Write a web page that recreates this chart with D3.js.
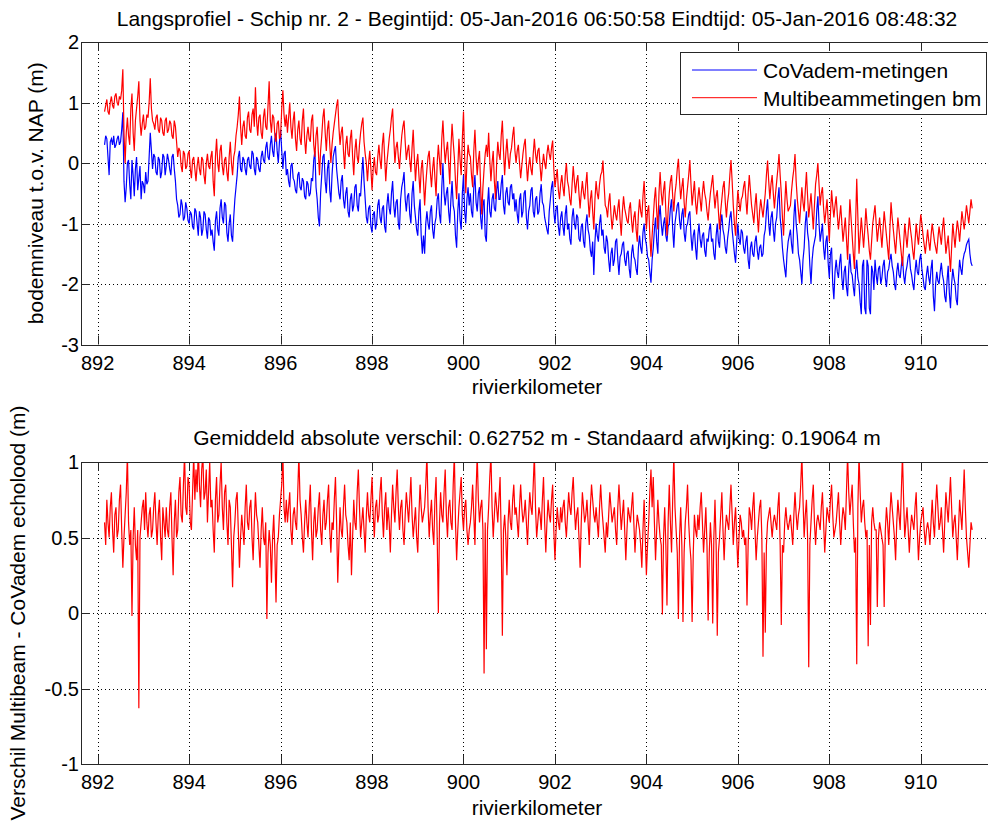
<!DOCTYPE html>
<html><head><meta charset="utf-8">
<script src="https://cdn.jsdelivr.net/npm/d3@7"></script>
<style>
body{margin:0;background:#fff}
svg{display:block}
text{font-family:"Liberation Sans",Arial,Helvetica,sans-serif;fill:#000}
</style>
</head><body>
<svg id="c" width="988" height="826"></svg>
<script>
// ---------------- DATA ----------------
// main sample positions (river km)
const rivierkm = [
892.15,892.20,892.25,892.30,892.35,892.40,892.45,892.50,892.55,892.60,892.65,892.70,892.75,892.80,892.85,892.90,892.95,893.00,893.05,893.10,
893.15,893.20,893.25,893.30,893.35,893.40,893.45,893.50,893.55,893.60,893.65,893.70,893.75,893.80,893.85,893.90,893.95,894.00,894.05,894.10,
894.15,894.20,894.25,894.30,894.35,894.40,894.45,894.50,894.55,894.60,894.65,894.70,894.75,894.80,894.85,894.90,894.95,895.00,895.05,895.10,
895.15,895.20,895.25,895.30,895.35,895.40,895.45,895.50,895.55,895.60,895.65,895.70,895.75,895.80,895.85,895.90,895.95,896.00,896.05,896.10,
896.15,896.20,896.25,896.30,896.35,896.40,896.45,896.50,896.55,896.60,896.65,896.70,896.75,896.80,896.85,896.90,896.95,897.00,897.05,897.10,
897.15,897.20,897.25,897.30,897.35,897.40,897.45,897.50,897.55,897.60,897.65,897.70,897.75,897.80,897.85,897.90,897.95,898.00,898.05,898.10,
898.15,898.20,898.25,898.30,898.35,898.40,898.45,898.50,898.55,898.60,898.65,898.70,898.75,898.80,898.85,898.90,898.95,899.00,899.05,899.10,
899.15,899.20,899.25,899.30,899.35,899.40,899.45,899.50,899.55,899.60,899.65,899.70,899.75,899.80,899.85,899.90,899.95,900.00,900.05,900.10,
900.15,900.20,900.25,900.30,900.35,900.40,900.45,900.50,900.55,900.60,900.65,900.70,900.75,900.80,900.85,900.90,900.95,901.00,901.05,901.10,
901.15,901.20,901.25,901.30,901.35,901.40,901.45,901.50,901.55,901.60,901.65,901.70,901.75,901.80,901.85,901.90,901.95,902.00,902.05,902.10,
902.15,902.20,902.25,902.30,902.35,902.40,902.45,902.50,902.55,902.60,902.65,902.70,902.75,902.80,902.85,902.90,902.95,903.00,903.05,903.10,
903.15,903.20,903.25,903.30,903.35,903.40,903.45,903.50,903.55,903.60,903.65,903.70,903.75,903.80,903.85,903.90,903.95,904.00,904.05,904.10,
904.15,904.20,904.25,904.30,904.35,904.40,904.45,904.50,904.55,904.60,904.65,904.70,904.75,904.80,904.85,904.90,904.95,905.00,905.05,905.10,
905.15,905.20,905.25,905.30,905.35,905.40,905.45,905.50,905.55,905.60,905.65,905.70,905.75,905.80,905.85,905.90,905.95,906.00,906.05,906.10,
906.15,906.20,906.25,906.30,906.35,906.40,906.45,906.50,906.55,906.60,906.65,906.70,906.75,906.80,906.85,906.90,906.95,907.00,907.05,907.10,
907.15,907.20,907.25,907.30,907.35,907.40,907.45,907.50,907.55,907.60,907.65,907.70,907.75,907.80,907.85,907.90,907.95,908.00,908.05,908.10,
908.15,908.20,908.25,908.30,908.35,908.40,908.45,908.50,908.55,908.60,908.65,908.70,908.75,908.80,908.85,908.90,908.95,909.00,909.05,909.10,
909.15,909.20,909.25,909.30,909.35,909.40,909.45,909.50,909.55,909.60,909.65,909.70,909.75,909.80,909.85,909.90,909.95,910.00,910.05,910.10,
910.15,910.20,910.25,910.30,910.35,910.40,910.45,910.50,910.55,910.60,910.65,910.70,910.75,910.80,910.85,910.90,910.95,911.00,911.05,911.10
];
// intermediate sample positions (river km)
const rivierkmTussen = [
892.175,892.225,892.275,892.325,892.375,892.425,892.475,892.525,892.575,892.625,892.675,892.725,892.775,892.825,892.875,892.925,892.975,893.025,893.075,893.125,
893.175,893.225,893.275,893.325,893.375,893.425,893.475,893.525,893.575,893.625,893.675,893.725,893.775,893.825,893.875,893.925,893.975,894.025,894.075,894.125,
894.175,894.225,894.275,894.325,894.375,894.425,894.475,894.525,894.575,894.625,894.675,894.725,894.775,894.825,894.875,894.925,894.975,895.025,895.075,895.125,
895.175,895.225,895.275,895.325,895.375,895.425,895.475,895.525,895.575,895.625,895.675,895.725,895.775,895.825,895.875,895.925,895.975,896.025,896.075,896.125,
896.175,896.225,896.275,896.325,896.375,896.425,896.475,896.525,896.575,896.625,896.675,896.725,896.775,896.825,896.875,896.925,896.975,897.025,897.075,897.125,
897.175,897.225,897.275,897.325,897.375,897.425,897.475,897.525,897.575,897.625,897.675,897.725,897.775,897.825,897.875,897.925,897.975,898.025,898.075,898.125,
898.175,898.225,898.275,898.325,898.375,898.425,898.475,898.525,898.575,898.625,898.675,898.725,898.775,898.825,898.875,898.925,898.975,899.025,899.075,899.125,
899.175,899.225,899.275,899.325,899.375,899.425,899.475,899.525,899.575,899.625,899.675,899.725,899.775,899.825,899.875,899.925,899.975,900.025,900.075,900.125,
900.175,900.225,900.275,900.325,900.375,900.425,900.475,900.525,900.575,900.625,900.675,900.725,900.775,900.825,900.875,900.925,900.975,901.025,901.075,901.125,
901.175,901.225,901.275,901.325,901.375,901.425,901.475,901.525,901.575,901.625,901.675,901.725,901.775,901.825,901.875,901.925,901.975,902.025,902.075,902.125,
902.175,902.225,902.275,902.325,902.375,902.425,902.475,902.525,902.575,902.625,902.675,902.725,902.775,902.825,902.875,902.925,902.975,903.025,903.075,903.125,
903.175,903.225,903.275,903.325,903.375,903.425,903.475,903.525,903.575,903.625,903.675,903.725,903.775,903.825,903.875,903.925,903.975,904.025,904.075,904.125,
904.175,904.225,904.275,904.325,904.375,904.425,904.475,904.525,904.575,904.625,904.675,904.725,904.775,904.825,904.875,904.925,904.975,905.025,905.075,905.125,
905.175,905.225,905.275,905.325,905.375,905.425,905.475,905.525,905.575,905.625,905.675,905.725,905.775,905.825,905.875,905.925,905.975,906.025,906.075,906.125,
906.175,906.225,906.275,906.325,906.375,906.425,906.475,906.525,906.575,906.625,906.675,906.725,906.775,906.825,906.875,906.925,906.975,907.025,907.075,907.125,
907.175,907.225,907.275,907.325,907.375,907.425,907.475,907.525,907.575,907.625,907.675,907.725,907.775,907.825,907.875,907.925,907.975,908.025,908.075,908.125,
908.175,908.225,908.275,908.325,908.375,908.425,908.475,908.525,908.575,908.625,908.675,908.725,908.775,908.825,908.875,908.925,908.975,909.025,909.075,909.125,
909.175,909.225,909.275,909.325,909.375,909.425,909.475,909.525,909.575,909.625,909.675,909.725,909.775,909.825,909.875,909.925,909.975,910.025,910.075,910.125,
910.175,910.225,910.275,910.325,910.375,910.425,910.475,910.525,910.575,910.625,910.675,910.725,910.775,910.825,910.875,910.925,910.975,911.025,911.075,911.125
];

// CoVadem-metingen (blue), m t.o.v. NAP, at rivierkm
const covadem = [
0.3,0.4,-0.2,0.4,0.45,0.3,0.45,0.35,0.84,-0.65,0.0,-0.35,0.05,-0.55,0.1,-0.25,-0.6,-0.35,-0.15,-0.3,
0.5,-0.1,0.1,-0.2,0.05,-0.15,0.1,-0.05,0.05,-0.2,0.15,-0.3,-0.7,-0.85,-0.7,-0.9,-0.75,-1.0,-0.85,-1.1,
-0.8,-1.2,-0.9,-1.1,-0.85,-1.25,-0.95,-1.1,-1.45,-0.8,-1.2,-0.6,-1.0,-0.7,-1.3,-0.85,-1.3,-0.6,-0.2,0.2,
-0.15,0.05,-0.2,0.1,-0.1,0.15,-0.2,0.05,-0.15,0.2,0.0,0.35,0.05,0.45,0.1,0.5,0.0,0.55,-0.1,0.2,
-0.1,-0.4,0.0,-0.3,-0.5,-0.15,-0.45,-0.3,-0.6,-0.35,-0.5,-0.3,0.2,-0.6,-1.05,-0.2,0.15,-0.5,0.05,-0.65,
0.1,0.28,-0.3,-0.6,-0.2,-0.75,-0.4,-0.9,-0.5,-0.7,-0.35,-0.8,-0.55,0.1,-0.6,-1.0,-0.7,-1.15,-0.8,-1.0,
-0.6,-1.0,-0.7,-1.15,-0.5,-0.85,-0.3,-0.9,-0.6,-1.1,-0.4,-0.15,-0.8,-0.5,-1.0,-0.3,-0.9,-1.2,-0.6,-1.5,
-1.5,-0.8,-1.1,-0.7,-1.25,-0.9,-0.5,-1.0,0.0,-0.7,-0.4,-1.0,-0.3,-0.8,-1.4,-0.5,-1.1,-0.2,-1.0,-0.4,
-0.5,-0.9,-0.2,-0.8,-0.4,-1.1,-0.6,-1.3,-0.4,-0.9,-0.5,-0.8,-0.3,-0.6,-0.2,-0.85,-0.4,-0.7,-0.35,-0.5,
-0.6,-1.0,-0.5,-0.8,-0.45,-1.1,-0.7,-0.4,-0.9,-0.55,-0.8,-0.35,-0.7,-1.0,-1.18,-0.6,-0.3,-1.0,-0.7,-1.2,
-0.8,-1.2,-0.7,-1.0,-1.35,-0.75,-1.1,-0.9,-1.3,-1.0,-1.4,-0.85,-1.2,-1.55,-1.85,-1.0,-1.3,-0.85,-1.1,-1.5,
-1.3,-1.8,-1.4,-1.6,-1.25,-1.85,-1.5,-1.3,-1.7,-1.45,-1.9,-1.35,-1.6,-1.85,-1.2,-1.5,-1.0,-1.35,-1.6,-1.98,
-1.4,-0.9,-1.5,-0.7,-1.2,-0.9,-1.3,-1.0,-0.6,-1.4,-0.85,-0.65,-1.1,-0.75,-1.3,-1.0,-0.8,-1.45,-1.1,-1.6,
-1.0,-1.4,-1.15,-1.55,-1.3,-1.0,-1.25,-1.6,-1.0,-1.4,-0.85,-1.2,-1.5,-1.1,-0.8,-1.3,-1.65,-1.0,-1.35,-1.15,
-1.5,-1.2,-1.75,-1.3,-1.55,-1.2,-1.6,-1.35,-1.5,-1.1,-0.6,-1.2,-0.8,-1.3,-0.9,-0.4,-1.1,-1.6,-1.89,-1.3,
-1.1,-1.5,-0.6,-1.2,-1.6,-2.0,-1.4,-0.8,-1.3,-2.0,-1.4,-1.2,-0.55,-1.3,-1.0,-1.6,-1.2,-1.9,-1.4,-2.25,
-1.6,-1.9,-1.5,-2.1,-1.7,-2.2,-1.5,-1.85,-2.2,-1.6,-2.0,-2.5,-1.6,-2.5,-1.7,-2.5,-1.8,-1.6,-2.0,-1.7,
-1.9,-1.6,-2.05,-1.75,-1.5,-1.8,-2.1,-1.65,-1.9,-1.55,-2.0,-1.7,-1.5,-1.85,-2.1,-1.6,-1.85,-1.5,-1.9,-2.1,
-1.7,-2.0,-1.6,-2.45,-1.8,-2.0,-1.65,-1.95,-2.3,-1.7,-2.4,-1.75,-2.0,-2.35,-1.6,-1.85,-1.5,-1.35,-1.26,-1.65
];
// CoVadem-metingen at rivierkmTussen
const covademTussen = [
0.45,0.1,0.35,0.3,0.25,0.4,0.3,0.55,-0.3,-0.4,0.05,-0.6,-0.2,-0.1,-0.45,-0.05,-0.3,-0.5,-0.35,0.1,
0.2,0.15,-0.15,0.1,-0.25,0.15,-0.2,0.15,-0.1,0.1,-0.1,-0.6,-0.9,-0.6,-0.95,-0.65,-0.95,-0.8,-1.05,-0.75,
-1.0,-0.8,-1.2,-0.8,-1.1,-0.9,-1.2,-1.3,-0.95,-1.1,-0.75,-0.9,-0.65,-1.15,-1.0,-1.2,-0.9,-0.4,0.1,-0.1,
0.1,-0.1,0.05,-0.05,0.2,-0.1,0.1,-0.1,0.1,0.05,0.25,0.1,0.3,0.2,0.4,0.2,0.35,0.2,0.15,-0.2,
-0.3,-0.05,-0.25,-0.45,-0.2,-0.4,-0.25,-0.55,-0.3,-0.55,-0.25,0.05,-0.4,-0.9,-0.5,0.1,-0.3,-0.1,-0.45,-0.2,
0.2,-0.1,-0.5,-0.3,-0.6,-0.5,-0.8,-0.6,-0.8,-0.4,-0.7,-0.5,-0.2,-0.3,-0.9,-0.75,-1.05,-0.85,-1.1,-0.7,
-0.9,-0.75,-1.05,-0.7,-0.75,-0.5,-0.7,-0.65,-1.0,-0.6,-0.3,-0.6,-0.55,-0.85,-0.5,-0.7,-1.1,-0.8,-1.2,-1.2,
-1.0,-1.0,-0.8,-1.1,-1.0,-0.6,-0.85,-0.4,-0.5,-0.5,-0.8,-0.6,-0.7,-1.2,-0.8,-0.95,-0.5,-0.8,-0.6,-0.7,
-0.8,-0.4,-0.65,-0.5,-0.9,-0.7,-1.2,-0.7,-0.8,-0.6,-0.75,-0.45,-0.6,-0.35,-0.7,-0.5,-0.65,-0.4,-0.6,-0.8,
-0.85,-0.6,-0.9,-0.5,-0.9,-0.8,-0.45,-0.8,-0.6,-0.85,-0.5,-0.65,-0.9,-1.1,-0.8,-0.4,-0.8,-0.75,-1.05,-0.9,
-1.05,-0.85,-1.1,-1.25,-0.9,-1.0,-0.85,-1.25,-1.05,-1.3,-1.0,-1.1,-1.45,-1.3,-1.3,-1.2,-1.0,-1.2,-1.4,-1.2,
-1.6,-1.5,-1.7,-1.3,-1.6,-1.55,-1.35,-1.6,-1.5,-1.75,-1.5,-1.55,-1.75,-1.4,-1.4,-1.15,-1.25,-1.55,-1.8,-1.6,
-1.1,-1.3,-0.9,-1.0,-1.0,-1.2,-1.05,-0.75,-1.1,-1.0,-0.7,-0.95,-0.85,-1.15,-1.05,-0.85,-1.2,-1.2,-1.4,-1.2,
-1.25,-1.2,-1.45,-1.25,-1.1,-1.3,-1.5,-1.2,-1.3,-1.0,-1.1,-1.4,-1.25,-0.9,-1.1,-1.5,-1.3,-1.25,-1.1,-1.4,
-1.3,-1.6,-1.4,-1.5,-1.3,-1.45,-1.4,-1.55,-1.2,-0.8,-1.0,-0.9,-1.1,-1.0,-0.6,-0.9,-1.4,-1.75,-1.5,-1.2,
-1.35,-0.9,-1.0,-1.5,-1.8,-1.6,-1.0,-1.15,-1.7,-1.6,-1.3,-0.8,-1.0,-1.15,-1.4,-1.3,-1.65,-1.5,-2.0,-1.8,
-1.8,-1.65,-1.9,-1.8,-2.05,-1.75,-1.8,-2.05,-1.8,-1.9,-2.3,-1.7,-2.4,-1.6,-2.4,-1.7,-2.1,-1.85,-1.75,-2.0,
-1.7,-1.9,-1.8,-1.6,-1.7,-2.0,-1.8,-1.85,-1.7,-1.85,-1.8,-1.55,-1.75,-2.0,-1.8,-1.8,-1.6,-1.75,-2.05,-1.85,
-1.9,-1.75,-2.2,-2.0,-1.95,-1.8,-1.85,-2.2,-1.95,-2.15,-2.0,-1.9,-2.25,-1.9,-1.75,-1.6,-1.45,-1.3,-1.5,-1.7
];

// Multibeammetingen bm (red), m t.o.v. NAP, at rivierkm
const multibeam = [
0.85,1.05,0.8,1.1,0.9,1.15,0.95,1.05,1.55,0.0,0.75,0.3,1.15,0.2,0.9,1.35,0.45,0.8,0.6,0.75,
1.4,0.7,0.55,0.8,0.5,0.7,0.45,0.75,0.55,0.65,0.4,0.6,0.1,0.2,-0.15,0.15,-0.05,0.2,-0.25,0.1,
-0.3,0.1,-0.2,0.05,-0.35,0.15,-0.1,0.2,-0.55,0.4,-0.15,0.3,-0.2,0.1,-0.3,0.35,-0.2,0.2,0.6,1.1,
0.3,0.7,0.4,0.85,0.5,0.9,1.25,0.45,0.8,0.4,0.9,0.55,1.35,0.5,0.75,0.35,0.7,0.45,1.2,0.6,
0.5,1.0,0.4,0.85,0.2,0.7,0.3,0.9,0.15,0.6,0.35,0.8,0.1,0.6,-0.2,0.45,0.9,0.2,0.7,0.0,
0.5,0.8,1.05,0.3,0.6,-0.1,0.45,0.1,0.55,-0.2,0.4,0.0,0.5,0.75,0.15,-0.3,0.2,-0.45,0.1,-0.2,
0.3,-0.1,0.5,-0.3,0.2,0.55,0.9,0.0,0.35,-0.1,0.45,0.7,0.05,0.3,-0.15,0.55,-0.3,0.15,-0.5,0.05,
-0.7,-0.1,0.2,-0.4,0.1,-0.55,0.3,-0.2,0.7,0.0,0.35,-0.35,0.65,0.1,-0.6,0.4,-0.2,0.85,-0.5,0.3,
0.1,-0.4,0.55,-0.2,0.2,-0.85,-0.1,0.3,0.5,-0.3,0.2,-0.6,0.35,0.05,0.7,-0.2,0.4,-0.1,0.25,0.6,
0.0,0.3,-0.25,0.15,0.4,-0.3,0.1,-0.2,0.4,0.0,0.25,-0.3,0.15,-0.1,0.3,0.05,0.37,-0.4,-0.1,-0.6,
-0.2,-0.55,0.0,-0.4,-0.7,-0.05,-0.5,-0.2,-0.75,-0.3,-0.6,-0.15,-0.9,-0.45,-1.1,-0.3,-0.6,-0.2,0.04,-0.7,
-0.9,-0.5,-1.1,-0.7,-0.95,-0.6,-1.2,-0.55,-0.85,-1.0,-0.65,-1.15,-0.8,-1.3,-0.6,-0.9,-0.3,-1.1,-0.7,-1.55,
-0.9,-0.4,-1.1,-0.15,-0.7,-0.3,-1.2,-0.5,-0.2,-0.8,-0.35,0.07,-0.6,-0.25,-0.9,-0.4,0.05,-0.7,-0.3,-0.85,
-0.4,-0.8,-0.3,-0.6,-0.95,-0.5,-0.2,-0.75,-0.45,-1.1,-0.6,-0.3,-0.9,-0.5,0.05,-0.7,-1.2,-0.45,-0.8,-0.55,
-0.3,-0.85,-0.2,-0.7,-1.0,-0.5,-1.15,-0.6,-0.9,-0.5,0.04,-0.6,-0.2,-0.75,-0.3,0.15,-0.5,-1.2,-0.3,-0.8,
-0.7,-0.25,0.15,-0.6,-1.0,-0.4,-0.8,-0.15,-0.9,-0.5,-1.1,-0.35,0.0,-0.7,-0.4,-1.0,-0.6,-1.3,-0.45,-0.9,
-0.55,-1.1,-0.7,-1.3,-0.9,-1.6,-0.6,-1.2,-1.75,-0.26,-1.5,-0.9,-1.4,-0.75,-1.2,-1.6,-1.0,-0.7,-1.3,-0.9,
-1.4,-0.8,-1.2,-1.6,-0.65,-1.1,-1.5,-0.9,-1.3,-1.7,-1.0,-1.4,-0.9,-1.25,-1.6,-1.0,-1.35,-0.85,-1.2,-1.5,
-1.1,-1.45,-1.0,-1.3,-1.5,-1.05,-1.35,-0.9,-1.5,-1.2,-1.8,-1.0,-1.4,-0.95,-1.3,-0.8,-1.1,-0.7,-1.0,-0.6
];
// Multibeammetingen bm at rivierkmTussen
const multibeamTussen = [
0.95,0.85,1.0,0.95,1.1,1.0,1.1,1.2,0.5,0.5,0.45,0.9,0.5,0.7,1.1,0.7,0.65,0.55,0.8,1.0,
0.9,0.65,0.75,0.55,0.75,0.5,0.7,0.5,0.7,0.45,0.7,0.35,0.25,-0.05,0.2,-0.1,0.15,-0.1,0.05,-0.1,
-0.05,-0.1,0.1,-0.2,0.0,-0.05,0.1,-0.3,0.1,0.0,0.2,-0.05,0.05,-0.15,0.1,0.0,0.1,0.45,0.8,0.6,
0.6,0.45,0.75,0.55,0.8,0.6,0.7,0.75,0.5,0.75,0.6,0.95,0.7,0.8,0.45,0.65,0.4,0.9,0.8,0.8,
0.75,0.6,0.7,0.4,0.55,0.4,0.7,0.4,0.45,0.4,0.7,0.3,0.45,0.2,0.2,0.75,0.5,0.55,0.3,0.3,
0.65,0.95,0.6,0.5,0.2,0.3,0.15,0.4,0.1,0.2,0.1,0.3,0.65,0.35,0.0,0.0,-0.1,-0.1,-0.15,0.1,
0.05,0.3,0.1,0.0,0.4,0.75,0.4,0.25,0.1,0.2,0.6,0.35,0.2,0.05,0.25,0.1,0.0,-0.2,-0.1,-0.3,
-0.35,0.1,-0.15,-0.1,-0.25,0.0,0.05,0.4,0.3,0.2,0.0,0.25,0.35,-0.3,-0.1,0.05,0.4,0.1,0.0,0.15,
-0.2,0.2,0.1,0.05,-0.4,-0.4,0.15,0.1,0.05,0.0,-0.3,0.0,0.15,0.45,0.2,0.15,0.1,0.15,0.45,0.2,
0.2,0.0,-0.05,0.3,0.0,-0.05,-0.1,0.15,0.15,0.2,-0.05,-0.05,0.0,0.15,0.15,0.25,-0.1,-0.25,-0.45,-0.35,
-0.4,-0.2,-0.3,-0.6,-0.35,-0.3,-0.3,-0.5,-0.5,-0.5,-0.35,-0.6,-0.6,-0.8,-0.6,-0.5,-0.35,-0.15,-0.35,-0.75,
-0.65,-0.85,-0.9,-0.85,-0.75,-0.95,-0.8,-0.75,-0.95,-0.75,-0.95,-0.9,-1.1,-0.85,-0.8,-0.55,-0.7,-0.8,-1.2,-1.2,
-0.6,-0.8,-0.5,-0.5,-0.45,-0.8,-0.8,-0.3,-0.55,-0.5,-0.1,-0.3,-0.4,-0.65,-0.6,-0.2,-0.35,-0.5,-0.65,-0.6,
-0.6,-0.5,-0.5,-0.8,-0.7,-0.35,-0.5,-0.55,-0.8,-0.8,-0.4,-0.65,-0.65,-0.2,-0.3,-1.0,-0.8,-0.65,-0.6,-0.4,
-0.6,-0.5,-0.45,-0.85,-0.7,-0.85,-0.8,-0.75,-0.7,-0.2,-0.3,-0.35,-0.5,-0.5,-0.1,-0.2,-0.9,-0.7,-0.6,-0.75,
-0.45,-0.1,-0.3,-0.8,-0.7,-0.65,-0.45,-0.55,-0.7,-0.8,-0.7,-0.2,-0.35,-0.5,-0.75,-0.8,-0.95,-0.85,-0.7,-0.7,
-0.85,-0.9,-1.0,-1.1,-1.25,-1.1,-0.9,-1.5,-1.0,-0.9,-1.2,-1.15,-1.1,-1.0,-1.45,-1.3,-0.85,-1.0,-1.1,-1.15,
-1.1,-1.0,-1.4,-1.1,-0.9,-1.3,-1.2,-1.1,-1.5,-1.35,-1.2,-1.15,-1.1,-1.45,-1.3,-1.2,-1.1,-1.0,-1.35,-1.3,
-1.3,-1.2,-1.15,-1.4,-1.25,-1.2,-1.1,-1.2,-1.35,-1.5,-1.4,-1.2,-1.15,-1.1,-1.05,-0.95,-0.9,-0.85,-0.8,-0.75
];

// Verschil Multibeam - CoVadem echolood (m), at rivierkm
const verschil = [
0.6,0.75,0.5,0.8,0.4,0.7,0.55,0.85,0.3,0.65,1.05,0.45,-0.02,0.7,0.35,-0.63,0.6,0.75,0.8,0.5,
0.7,0.55,0.8,0.45,0.75,0.35,0.6,0.7,0.5,0.8,0.25,0.75,0.55,0.9,0.6,1.05,0.65,0.85,0.55,1.05,
0.95,1.1,0.7,1.05,0.8,0.6,1.0,0.75,0.4,0.9,0.65,1.0,0.55,0.85,0.45,0.7,0.17,0.6,0.8,0.3,
0.65,0.45,0.85,0.55,0.75,0.35,0.8,0.6,0.3,0.7,0.45,-0.04,0.55,0.2,0.65,0.07,0.5,0.75,1.05,0.6,
0.6,0.8,0.45,0.7,0.55,1.05,0.65,0.4,0.75,0.5,0.85,0.35,0.7,0.55,0.8,0.45,0.75,0.6,0.85,0.4,
0.55,0.9,0.2,0.7,0.5,0.85,0.6,0.35,0.25,0.75,0.55,0.95,0.5,0.7,0.4,0.8,0.6,0.9,0.5,0.75,
0.65,0.9,0.5,0.8,0.7,0.4,0.85,0.6,0.95,0.55,0.75,0.45,0.8,0.6,0.9,0.5,0.7,0.4,0.85,0.6,
0.7,1.05,0.5,0.75,0.45,0.9,0.0,0.8,0.6,0.95,0.5,0.75,0.55,1.05,0.35,0.7,0.9,0.55,0.75,0.45,
0.6,0.85,0.45,1.05,0.6,0.75,-0.4,-0.24,0.7,1.05,0.5,0.8,0.6,0.9,-0.15,0.65,0.25,0.75,0.55,0.85,
0.7,0.5,0.85,0.6,0.75,0.45,0.8,0.65,1.05,0.5,0.7,0.55,0.9,0.4,0.75,0.6,0.85,0.35,0.7,0.55,
0.6,0.75,0.5,0.8,0.65,0.9,0.55,0.7,0.3,0.8,0.6,0.75,0.45,0.85,0.65,0.7,0.5,0.85,0.6,0.4,
0.5,0.8,0.6,0.7,0.45,0.85,0.55,0.75,0.35,0.7,0.6,0.8,0.4,0.65,0.55,0.3,0.75,0.25,0.6,0.95,
0.9,0.35,0.75,0.5,-0.01,0.7,0.05,0.85,0.4,1.05,0.55,-0.04,0.7,-0.06,0.6,0.85,0.45,-0.06,0.65,0.5,
0.55,0.8,0.4,0.7,-0.05,0.6,-0.07,0.75,-0.15,0.5,0.8,0.35,0.65,0.55,0.85,0.45,0.7,0.3,0.65,0.5,
0.45,0.05,0.7,0.55,0.8,0.35,0.6,0.75,-0.29,-0.13,0.6,0.7,0.5,0.65,0.55,0.8,-0.08,0.4,0.7,0.55,
0.65,0.45,0.8,0.55,0.7,1.05,0.5,0.75,-0.36,0.6,0.85,0.45,0.65,0.55,0.8,0.4,0.7,0.6,0.85,0.5,
0.6,0.8,0.45,0.7,0.55,1.05,0.65,0.85,0.4,-0.34,1.05,0.6,0.75,0.5,-0.22,-0.08,0.7,0.55,0.04,0.6,
0.5,0.04,0.7,0.45,0.8,0.6,0.35,0.75,0.55,1.05,0.5,0.7,0.4,0.65,0.55,0.8,0.35,0.6,0.7,0.45,
0.6,0.45,0.75,0.5,0.85,0.55,0.7,0.4,0.8,0.6,0.9,0.5,0.65,0.35,0.75,0.55,0.95,0.5,0.3,0.6
];
// Verschil at rivierkmTussen
const verschilTussen = [
0.45,0.6,0.7,0.55,0.65,0.5,0.75,0.55,0.5,0.8,0.6,0.55,0.5,0.45,0.55,0.5,0.7,0.55,0.6,0.65,
0.5,0.7,0.6,0.65,0.5,0.7,0.5,0.55,0.7,0.5,0.6,0.5,0.8,0.65,0.85,0.7,0.9,0.6,0.8,0.75,
0.8,0.85,0.95,0.75,0.95,0.8,0.7,0.55,0.75,0.6,0.85,0.7,0.8,0.6,0.75,0.45,0.5,0.75,0.55,0.5,
0.55,0.7,0.6,0.7,0.5,0.6,0.65,0.45,0.55,0.5,0.6,0.4,0.45,0.5,0.4,0.45,0.65,0.85,0.7,0.75,
0.7,0.55,0.65,0.6,0.8,0.75,0.5,0.6,0.6,0.7,0.55,0.6,0.5,0.7,0.55,0.65,0.55,0.75,0.55,0.6,
0.75,0.6,0.45,0.55,0.7,0.65,0.45,0.6,0.5,0.6,0.8,0.7,0.6,0.55,0.65,0.65,0.75,0.65,0.7,0.6,
0.8,0.65,0.7,0.55,0.6,0.65,0.7,0.8,0.7,0.7,0.55,0.65,0.7,0.75,0.65,0.6,0.5,0.65,0.7,0.65,
0.85,0.7,0.65,0.55,0.75,0.5,0.6,0.65,0.8,0.65,0.7,0.6,0.85,0.6,0.55,0.8,0.65,0.7,0.55,0.55,
0.7,0.65,0.8,0.75,0.7,0.55,0.6,0.55,0.9,0.7,0.65,0.7,0.75,0.5,0.55,0.5,0.6,0.6,0.75,0.65,
0.6,0.7,0.7,0.65,0.6,0.65,0.7,0.85,0.7,0.6,0.65,0.75,0.6,0.6,0.65,0.75,0.55,0.55,0.6,0.7,
0.7,0.6,0.65,0.7,0.8,0.7,0.65,0.5,0.6,0.7,0.65,0.6,0.7,0.75,0.6,0.6,0.7,0.7,0.5,0.6,
0.65,0.7,0.65,0.55,0.7,0.7,0.65,0.55,0.55,0.65,0.7,0.6,0.55,0.6,0.45,0.55,0.5,0.45,0.8,0.7,
0.6,0.55,0.6,0.45,0.5,0.45,0.6,0.6,0.75,0.7,0.4,0.5,0.45,0.4,0.7,0.6,0.35,0.4,0.55,0.65,
0.7,0.6,0.55,0.45,0.4,0.45,0.5,0.45,0.4,0.65,0.55,0.55,0.6,0.7,0.65,0.6,0.5,0.5,0.6,0.55,
0.5,0.45,0.65,0.7,0.55,0.5,0.7,0.5,0.4,0.45,0.65,0.6,0.6,0.6,0.7,0.45,0.45,0.6,0.6,0.6,
0.55,0.65,0.65,0.65,0.85,0.75,0.65,0.5,0.45,0.75,0.6,0.6,0.6,0.7,0.6,0.55,0.65,0.75,0.65,0.55,
0.7,0.6,0.6,0.65,0.8,0.8,0.75,0.6,0.5,0.7,0.8,0.7,0.6,0.55,0.45,0.6,0.6,0.55,0.5,0.55,
0.45,0.55,0.6,0.65,0.7,0.5,0.6,0.65,0.8,0.75,0.6,0.55,0.55,0.6,0.7,0.55,0.5,0.65,0.55,0.55,
0.55,0.6,0.6,0.7,0.7,0.6,0.55,0.6,0.7,0.75,0.7,0.6,0.5,0.55,0.65,0.75,0.7,0.4,0.45,0.55
];

const xTicks = [892,894,896,898,900,902,904,906,908,910];
const yTicksTop = [-3,-2,-1,0,1,2];
const yTicksBottom = [-1,-0.5,0,0.5,1];
const seriesNames = ["CoVadem-metingen","Multibeammetingen bm"];
const seriesColors = ["#0000ff","#ff0000"];
const titleTop = "Langsprofiel - Schip nr. 2 - Begintijd: 05-Jan-2016 06:50:58 Eindtijd: 05-Jan-2016 08:48:32";
const titleBottom = "Gemiddeld absolute verschil: 0.62752 m - Standaard afwijking: 0.19064 m";
const xLabel = "rivierkilometer";
const yLabelTop = "bodemniveau t.o.v. NAP (m)";
const yLabelBottom = "Verschil Multibeam - CoVadem echolood (m)";

// merge main + intermediate samples into one ordered series
function merge(vals, valsTussen) {
  const pts = rivierkm.map((k, i) => ({km: k, v: vals[i]}))
    .concat(rivierkmTussen.map((k, i) => ({km: k, v: valsTussen[i]})));
  pts.sort((a, b) => a.km - b.km);
  return pts;
}

// ---------------- DRAWING ----------------
const svg = d3.select("#c");
svg.append("rect").attr("width",988).attr("height",826).attr("fill","#fff");

const L = 81, R = 993;
const x = d3.scaleLinear().domain([891.635, 911.58]).range([L, R]);
const AXC = "#262626";
const FS = 20;   // tick labels
const FT = 21;   // titles, axis labels, legend

function panel(id, top, bottom, yDomain, yTicks, series, title, titleY, labelY, ylab, ylabX) {
  const y = d3.scaleLinear().domain(yDomain).range([bottom, top]);
  const g = svg.append("g");
  svg.append("clipPath").attr("id", "clip"+id).append("rect")
    .attr("x", L).attr("y", top).attr("width", R-L).attr("height", bottom-top);
  // grid
  const grid = g.append("g").attr("stroke", "#000").attr("stroke-width", 1)
    .attr("stroke-dasharray", "1,3").attr("fill", "none");
  xTicks.forEach(t => {
    const px = Math.round(x(t)) + 0.5;
    grid.append("line").attr("x1", px).attr("x2", px).attr("y1", top).attr("y2", bottom);
  });
  yTicks.forEach(t => {
    if (t === yDomain[0] || t === yDomain[1]) return;
    const py = Math.round(y(t)) + 0.5;
    grid.append("line").attr("x1", L).attr("x2", R).attr("y1", py).attr("y2", py);
  });
  // data
  const dg = g.append("g").attr("clip-path", "url(#clip"+id+")");
  series.forEach(s => {
    const line = d3.line().x(d => x(d.km)).y(d => y(d.v));
    dg.append("path").datum(s.points).attr("d", line)
      .attr("fill", "none").attr("stroke", s.color).attr("stroke-width", 1.2);
  });
  // box
  g.append("rect").attr("x", L+0.5).attr("y", Math.round(top)+0.5)
    .attr("width", R-L).attr("height", Math.round(bottom)-Math.round(top))
    .attr("fill", "none").attr("stroke", AXC).attr("stroke-width", 1);
  // ticks (inside)
  const tk = g.append("g").attr("stroke", AXC).attr("stroke-width", 1);
  xTicks.forEach(t => {
    const px = Math.round(x(t)) + 0.5;
    tk.append("line").attr("x1", px).attr("x2", px).attr("y1", bottom).attr("y2", bottom-9);
    tk.append("line").attr("x1", px).attr("x2", px).attr("y1", top).attr("y2", top+9);
  });
  yTicks.forEach(t => {
    const py = Math.round(y(t)) + 0.5;
    tk.append("line").attr("x1", L).attr("x2", L+9).attr("y1", py).attr("y2", py);
  });
  // tick labels
  xTicks.forEach(t => {
    g.append("text").attr("x", x(t)).attr("y", bottom + 25).attr("text-anchor", "middle")
      .attr("font-size", FS).text(String(t));
  });
  yTicks.forEach(t => {
    g.append("text").attr("x", L - 2).attr("y", y(t) + 7).attr("text-anchor", "end")
      .attr("font-size", FS).text(String(t));
  });
  // titles & labels
  g.append("text").attr("x", (L+R)/2).attr("y", titleY).attr("text-anchor", "middle")
    .attr("font-size", FT).text(title);
  g.append("text").attr("x", (L+R)/2).attr("y", labelY).attr("text-anchor", "middle")
    .attr("font-size", FT).text(xLabel);
  g.append("text").attr("transform", `translate(${ylabX},${(top+bottom)/2}) rotate(-90)`)
    .attr("text-anchor", "middle").attr("font-size", FT).text(ylab);
  return y;
}

panel(1, 42, 344.5, [-3, 2], yTicksTop,
  [{points: merge(covadem, covademTussen), color: seriesColors[0]},
   {points: merge(multibeam, multibeamTussen), color: seriesColors[1]}],
  titleTop, 26, 394, yLabelTop, 43);

panel(2, 462, 764, [-1, 1], yTicksBottom,
  [{points: merge(verschil, verschilTussen), color: seriesColors[1]}],
  titleBottom, 445, 815, yLabelBottom, 25);

// legend
const lg = svg.append("g");
lg.append("rect").attr("x", 680.5).attr("y", 52.5).attr("width", 306).attr("height", 62)
  .attr("fill", "#fff").attr("stroke", AXC).attr("stroke-width", 1);
seriesNames.forEach((n, i) => {
  const yy = 70 + i * 27.7;
  lg.append("line").attr("x1", 692).attr("x2", 757).attr("y1", yy).attr("y2", yy)
    .attr("stroke", seriesColors[i]).attr("stroke-width", 1);
  lg.append("text").attr("x", 763).attr("y", yy + 8).attr("font-size", FT).text(n);
});
</script>
</body></html>
